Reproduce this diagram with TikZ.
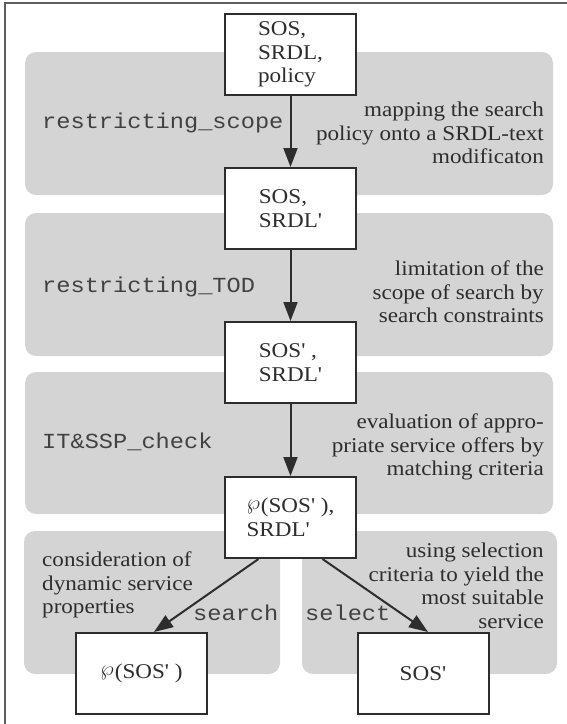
\documentclass[tikz,border=0pt]{standalone}
\usepackage{graphicx}
\usepackage{fontspec}
\setmainfont{Liberation Serif}[FakeStretch=1.1, Ligatures=TeXOff]
\setmonofont{Liberation Mono}[FakeStretch=1.1]
\usetikzlibrary{arrows.meta}
\definecolor{ink}{RGB}{45,45,45}
\definecolor{monoink}{RGB}{65,65,65}
\definecolor{bandgray}{RGB}{212,212,212}
\definecolor{framegray}{RGB}{95,95,95}
\newcommand{\diagtxt}{\fontsize{21}{23.5}\selectfont}
\newcommand{\diagmono}{\fontsize{21.5}{23.5}\selectfont\ttfamily}
\newcommand{\pset}{\raisebox{3.5pt}{\scalebox{2.1}{\fontsize{10}{12}\selectfont$\wp$}}\kern1pt}
\tikzset{
  band/.style={fill=bandgray, rounded corners=11pt},
  stbox/.style={draw=ink, line width=2pt, fill=white, minimum width=131pt,
    minimum height=81pt, align=left, inner sep=0pt, text=ink, font=\diagtxt},
  lbl/.style={text=ink, font=\diagtxt, inner sep=0pt},
  monolbl/.style={text=monoink, font=\diagmono, inner sep=0pt, anchor=west},
  arr/.style={draw=ink, line width=2pt, -{Triangle[length=19pt,width=14pt]}},
  frameline/.style={draw=framegray, line width=1.5pt},
}
\begin{document}
\begin{tikzpicture}[x=1pt, y=-1pt]
\useasboundingbox (0,0) rectangle (567,724);
% frame
\draw[frameline] (5,724) -- (5,3) -- (567,3);
% bands
\fill[band] (25,52) rectangle (553,195);
\fill[band] (25,213) rectangle (553,356);
\fill[band] (25,372) rectangle (553,514);
\fill[band] (24,531) rectangle (280,674);
\fill[band] (302,531) rectangle (557,674);
% boxes
\node[stbox] (b1) at (290.5,54.5) {SOS,\\SRDL,\\policy};
\node[stbox] (b2) at (290.5,208.5) {SOS,\\SRDL'};
\node[stbox] (b3) at (290.5,362.5) {SOS' ,\\SRDL'};
\node[stbox] (b4) at (290.5,517.5) {\pset(SOS' ),\\SRDL'};
\node[stbox] (bl) at (141.5,673.5) {\pset(SOS' )};
\node[stbox] (br) at (423,673.5) {SOS'};
% arrows
\draw[arr] (b1.south) -- (b2.north);
\draw[arr] (b2.south) -- (b3.north);
\draw[arr] (b3.south) -- (b4.north);
\draw[arr] ([xshift=-32pt]b4.south) -- ([xshift=12.5pt]bl.north);
\draw[arr] ([xshift=32pt]b4.south) -- ([xshift=5pt]br.north);
% left mono labels
\node[monolbl] (m1) at (42,123) {restricting\_scope};
\node[monolbl] (m2) at (42,287) {restricting\_TOD};
\node[monolbl] (m3) at (42,442) {IT\&SSP\_check};
\node[monolbl] (m4) at (193,613) {search};
\node[monolbl] (m5) at (305,613) {select};
% right descriptions
\node[lbl, anchor=east, align=right] (d1) at (544,133) {mapping the search\\policy onto a SRDL-text\\modificaton};
\node[lbl, anchor=east, align=right] (d2) at (544,292) {limitation of the\\scope of search by\\search constraints};
\node[lbl, anchor=east, align=right] (d3) at (544,447) {evaluation of appro-\\priate service offers by\\matching criteria};
\node[lbl, anchor=west, align=left] (d4) at (42,585) {consideration of\\dynamic service\\properties};
\node[lbl, anchor=east, align=right] (d5) at (544,586) {using selection\\criteria to yield the\\most suitable\\service};
\end{tikzpicture}
\end{document}
